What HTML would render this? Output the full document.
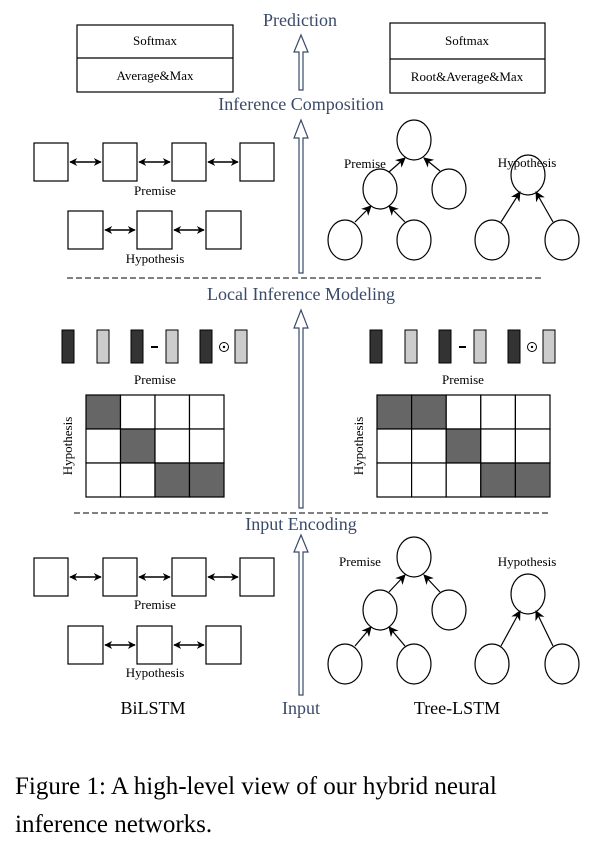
<!DOCTYPE html>
<html><head><meta charset="utf-8"><style>
html,body{margin:0;padding:0;background:#fff;}
svg{display:block;}
text{font-family:"Liberation Serif",serif;}
</style></head><body>
<svg width="610" height="846" viewBox="0 0 610 846" xmlns="http://www.w3.org/2000/svg">
<defs>
<marker id="ah" viewBox="0 0 10 10" refX="9" refY="5" markerWidth="8" markerHeight="8" orient="auto-start-reverse" markerUnits="userSpaceOnUse">
<path d="M0,0 L10,5 L0,10 L3,5 z" fill="#000"/></marker>
<marker id="at" viewBox="0 0 10 10" refX="9" refY="5" markerWidth="10" markerHeight="10" orient="auto" markerUnits="userSpaceOnUse">
<path d="M0,0 L10,5 L0,10 L3,5 z" fill="#000"/></marker>
</defs>
<g fill="#3a4a6a" font-size="18" text-anchor="middle">
<text x="300" y="26">Prediction</text>
<text x="301" y="110">Inference Composition</text>
<text x="301" y="300">Local Inference Modeling</text>
<text x="301" y="530">Input Encoding</text>
<text x="301" y="714">Input</text>
</g>
<g fill="none" stroke="#3a4a6a" stroke-width="1.2">
<path d="M299,90 L299,52 L294,52 L301,35 L308,52 L303,52 L303,90 Z"/>
<path d="M299,273 L299,138 L294,138 L301,120 L308,138 L303,138 L303,273 Z"/>
<path d="M299,508 L299,328 L294,328 L301,310 L308,328 L303,328 L303,508 Z"/>
<path d="M299,695 L299,552 L294,552 L301,535 L308,552 L303,552 L303,695 Z"/>
</g>
<g stroke="#000" stroke-width="1.2" fill="#fff">
<rect x="77" y="25" width="156" height="67"/><line x1="77" y1="58" x2="233" y2="58"/>
<rect x="390" y="23" width="155" height="70"/><line x1="390" y1="59" x2="545" y2="59"/>
</g>
<g font-size="13" text-anchor="middle" fill="#000">
<text x="155" y="45">Softmax</text><text x="155" y="80">Average&amp;Max</text>
<text x="467" y="45">Softmax</text><text x="467" y="81">Root&amp;Average&amp;Max</text>
</g>

<g stroke="#000" stroke-width="1.2" fill="#fff">
<rect x="34" y="143" width="34" height="38"/><rect x="103" y="143" width="34" height="38"/><rect x="172" y="143" width="34" height="38"/><rect x="240" y="143" width="34" height="38"/>
<rect x="68" y="211" width="35" height="38"/><rect x="137" y="211" width="35" height="38"/><rect x="206" y="211" width="35" height="38"/>
<rect x="34" y="558" width="34" height="38"/><rect x="103" y="558" width="34" height="38"/><rect x="172" y="558" width="34" height="38"/><rect x="240" y="558" width="34" height="38"/>
<rect x="68" y="626" width="35" height="38"/><rect x="137" y="626" width="35" height="38"/><rect x="206" y="626" width="35" height="38"/>
</g>
<g stroke="#000" stroke-width="1.6" fill="none">
<line x1="70" y1="162" x2="101" y2="162" marker-start="url(#ah)" marker-end="url(#ah)"/>
<line x1="139" y1="162" x2="170" y2="162" marker-start="url(#ah)" marker-end="url(#ah)"/>
<line x1="208" y1="162" x2="238" y2="162" marker-start="url(#ah)" marker-end="url(#ah)"/>
<line x1="105" y1="230" x2="135" y2="230" marker-start="url(#ah)" marker-end="url(#ah)"/>
<line x1="174" y1="230" x2="204" y2="230" marker-start="url(#ah)" marker-end="url(#ah)"/>
<line x1="70" y1="577" x2="101" y2="577" marker-start="url(#ah)" marker-end="url(#ah)"/>
<line x1="139" y1="577" x2="170" y2="577" marker-start="url(#ah)" marker-end="url(#ah)"/>
<line x1="208" y1="577" x2="238" y2="577" marker-start="url(#ah)" marker-end="url(#ah)"/>
<line x1="105" y1="645" x2="135" y2="645" marker-start="url(#ah)" marker-end="url(#ah)"/>
<line x1="174" y1="645" x2="204" y2="645" marker-start="url(#ah)" marker-end="url(#ah)"/>
</g>
<g font-size="13" text-anchor="middle">
<text x="155" y="195">Premise</text><text x="155" y="263">Hypothesis</text>
<text x="155" y="609">Premise</text><text x="155" y="677">Hypothesis</text>
</g>

<g stroke="#000" stroke-width="1.2" fill="#fff">
<ellipse cx="414" cy="140" rx="17" ry="20"/><ellipse cx="380" cy="189" rx="17" ry="20"/><ellipse cx="449" cy="189" rx="17" ry="20"/>
<ellipse cx="345" cy="240" rx="17" ry="20"/><ellipse cx="414" cy="240" rx="17" ry="20"/>
<ellipse cx="528" cy="175" rx="17" ry="20"/><ellipse cx="492" cy="240" rx="17" ry="20"/><ellipse cx="562" cy="240" rx="17" ry="20"/>
<ellipse cx="414" cy="557" rx="17" ry="20"/><ellipse cx="380" cy="610" rx="17" ry="20"/><ellipse cx="449" cy="610" rx="17" ry="20"/>
<ellipse cx="345" cy="664" rx="17" ry="20"/><ellipse cx="414" cy="664" rx="17" ry="20"/>
<ellipse cx="528" cy="594" rx="17" ry="20"/><ellipse cx="492" cy="664" rx="17" ry="20"/><ellipse cx="562" cy="664" rx="17" ry="20"/>
</g>
<g stroke="#000" stroke-width="1.2" fill="none" marker-end="url(#at)">
<line x1="389" y1="172" x2="405" y2="158"/><line x1="440" y1="171" x2="424" y2="158"/>
<line x1="355" y1="222" x2="371" y2="206"/><line x1="405" y1="222" x2="389" y2="206"/>
<line x1="501" y1="222" x2="520" y2="192"/><line x1="553" y1="222" x2="536" y2="192"/>
<line x1="389" y1="592" x2="405" y2="575"/><line x1="440" y1="592" x2="424" y2="575"/>
<line x1="355" y1="646" x2="371" y2="627"/><line x1="405" y1="646" x2="389" y2="627"/>
<line x1="501" y1="646" x2="520" y2="611"/><line x1="553" y1="646" x2="536" y2="611"/>
</g>
<g font-size="13" text-anchor="middle">
<text x="365" y="168">Premise</text><text x="527" y="167">Hypothesis</text>
<text x="360" y="566">Premise</text><text x="527" y="566">Hypothesis</text>
</g>

<g stroke="#000" stroke-width="1" stroke-dasharray="6,3">
<line x1="67" y1="278" x2="543" y2="278"/>
<line x1="74" y1="513" x2="550" y2="513"/>
</g>

<g stroke="#000" stroke-width="1">
<g fill="#333"><rect x="62" y="330" width="12" height="33"/><rect x="131" y="330" width="12" height="33"/><rect x="200" y="330" width="12" height="33"/>
<rect x="370" y="330" width="12" height="33"/><rect x="439" y="330" width="12" height="33"/><rect x="508" y="330" width="12" height="33"/></g>
<g fill="#ccc"><rect x="97" y="330" width="12" height="33"/><rect x="166" y="330" width="12" height="33"/><rect x="235" y="330" width="12" height="33"/>
<rect x="405" y="330" width="12" height="33"/><rect x="474" y="330" width="12" height="33"/><rect x="543" y="330" width="12" height="33"/></g>
</g>
<g stroke="#000" stroke-width="2"><line x1="151" y1="347" x2="158" y2="347"/><line x1="459" y1="347" x2="466" y2="347"/></g>
<g fill="none" stroke="#000" stroke-width="1"><circle cx="224" cy="347" r="4.5"/><circle cx="532" cy="347" r="4.5"/></g>
<g fill="#000"><circle cx="224" cy="347" r="1.2"/><circle cx="532" cy="347" r="1.2"/></g>
<g font-size="13" text-anchor="middle">
<text x="155" y="384">Premise</text><text x="463" y="384">Premise</text>
</g>

<g stroke="#000" stroke-width="1.2">
<rect x="86" y="395" width="34.5" height="34" fill="#666"/><rect x="120.5" y="395" width="34.5" height="34" fill="#fff"/><rect x="155" y="395" width="34.5" height="34" fill="#fff"/><rect x="189.5" y="395" width="34.5" height="34" fill="#fff"/>
<rect x="86" y="429" width="34.5" height="34" fill="#fff"/><rect x="120.5" y="429" width="34.5" height="34" fill="#666"/><rect x="155" y="429" width="34.5" height="34" fill="#fff"/><rect x="189.5" y="429" width="34.5" height="34" fill="#fff"/>
<rect x="86" y="463" width="34.5" height="34" fill="#fff"/><rect x="120.5" y="463" width="34.5" height="34" fill="#fff"/><rect x="155" y="463" width="34.5" height="34" fill="#666"/><rect x="189.5" y="463" width="34.5" height="34" fill="#666"/>
<rect x="377" y="395" width="34.6" height="34" fill="#666"/><rect x="411.6" y="395" width="34.6" height="34" fill="#666"/><rect x="446.2" y="395" width="34.6" height="34" fill="#fff"/><rect x="480.8" y="395" width="34.6" height="34" fill="#fff"/><rect x="515.4" y="395" width="34.6" height="34" fill="#fff"/>
<rect x="377" y="429" width="34.6" height="34" fill="#fff"/><rect x="411.6" y="429" width="34.6" height="34" fill="#fff"/><rect x="446.2" y="429" width="34.6" height="34" fill="#666"/><rect x="480.8" y="429" width="34.6" height="34" fill="#fff"/><rect x="515.4" y="429" width="34.6" height="34" fill="#fff"/>
<rect x="377" y="463" width="34.6" height="34" fill="#fff"/><rect x="411.6" y="463" width="34.6" height="34" fill="#fff"/><rect x="446.2" y="463" width="34.6" height="34" fill="#fff"/><rect x="480.8" y="463" width="34.6" height="34" fill="#666"/><rect x="515.4" y="463" width="34.6" height="34" fill="#666"/>
</g>
<g font-size="13" text-anchor="middle">
<text transform="translate(72,446) rotate(-90)">Hypothesis</text>
<text transform="translate(363,446) rotate(-90)">Hypothesis</text>
</g>

<g font-size="18" text-anchor="middle">
<text x="153" y="714">BiLSTM</text><text x="457" y="714">Tree-LSTM</text>
</g>
<g font-size="25">
<text x="15" y="794">Figure 1: A high-level view of our hybrid neural</text>
<text x="15" y="832">inference networks.</text>
</g>
</svg>
</body></html>
